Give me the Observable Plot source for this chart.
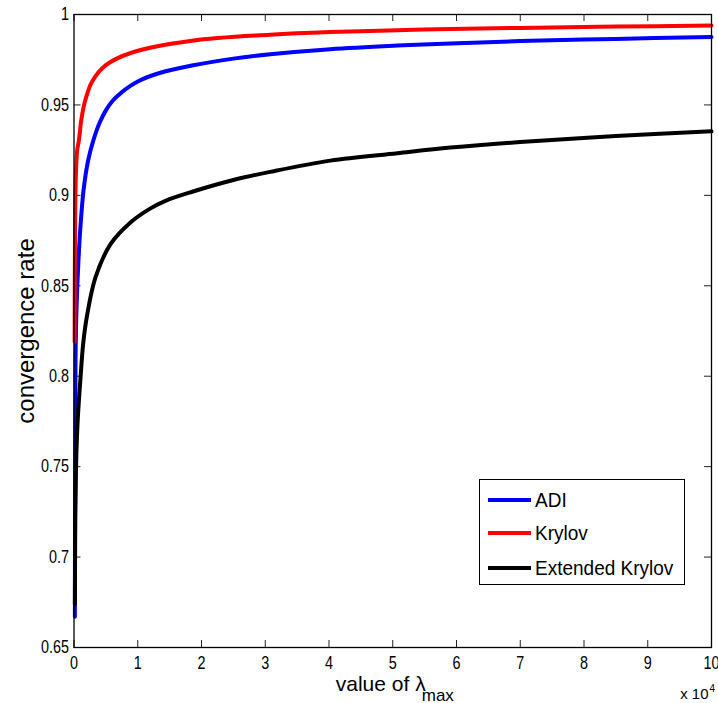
<!DOCTYPE html>
<html>
<head>
<meta charset="utf-8">
<script src="https://cdn.jsdelivr.net/npm/d3@7"></script>
<script src="https://cdn.jsdelivr.net/npm/@observablehq/plot@0.6"></script>
<style>
  html, body { margin: 0; padding: 0; background: #fff; }
  #wrap { position: relative; width: 718px; height: 703px; overflow: hidden; }
  #legend { position: absolute; left: 479px; top: 479px; width: 206px; height: 106px;
    border: 1px solid #000; background: #fff; box-sizing: border-box;
    font-family: "Liberation Sans", Arial, sans-serif; font-size: 20px; color: #000; }
  .row { position: absolute; left: 0; height: 24px; display: flex; align-items: center; }
  .sw { width: 43px; height: 4px; margin-left: 8px; margin-right: 4px; }
  .lbl { display: inline-block; transform-origin: left center; transform: scaleX(0.95); }
</style>
</head>
<body>
<div id="wrap"></div>
<script>
// values of lambda_max (x 10^4) and convergence rates
const adiX = [0.014, 0.016, 0.019, 0.024, 0.04, 0.07, 0.1, 0.15, 0.22, 0.3, 0.4, 0.5, 0.6, 0.7, 0.8, 1.0, 1.33, 1.85, 2.5, 3.08, 4.02, 5.07, 5.906, 7, 8.5, 10];
const adiY = [0.667, 0.72, 0.77, 0.81, 0.838, 0.864, 0.882, 0.903, 0.919, 0.930, 0.940, 0.947, 0.952, 0.9555, 0.9585, 0.963, 0.9675, 0.9718, 0.9756, 0.978, 0.9808, 0.9828, 0.984, 0.9853, 0.9865, 0.9876];

const krylovX = [0.010, 0.013, 0.018, 0.03, 0.05, 0.075, 0.12, 0.18, 0.285, 0.5, 0.91, 1.85, 3.08, 4.02, 5.07, 5.906, 7, 8.5, 10];
const krylovY = [0.819, 0.86, 0.89, 0.912, 0.925, 0.930, 0.943, 0.953, 0.963, 0.972, 0.979, 0.9855, 0.9888, 0.9903, 0.9913, 0.9920, 0.9926, 0.9933, 0.9939];

const extX = [0.014, 0.02, 0.03, 0.039, 0.06, 0.102, 0.144, 0.207, 0.337, 0.573, 0.886, 1.2, 1.435, 1.854, 2.5, 3.08, 4.02, 5.07, 5.906, 7, 8.5, 10];
const extY = [0.674, 0.72, 0.745, 0.759, 0.777, 0.799, 0.818, 0.834, 0.8546, 0.873, 0.885, 0.8928, 0.897, 0.902, 0.9085, 0.913, 0.9192, 0.9233, 0.9264, 0.9295, 0.9328, 0.9354];

const seriesNames = ["ADI", "Krylov", "Extended Krylov"];
const seriesColors = ["#0000ff", "#ff0000", "#000000"];
const xTicks = [0, 1, 2, 3, 4, 5, 6, 7, 8, 9, 10];
const yTicks = [0.65, 0.7, 0.75, 0.8, 0.85, 0.9, 0.95, 1];

const W = 718, H = 703;
const mL = 73.5, mR = 7, mT = 14, mB = 56;
const fw = W - mL - mR, fh = H - mT - mB;
const tick = 7;

const toRows = (xs, ys, name) => xs.map((x, i) => ({x, y: ys[i], name}));
const data = [
  ...toRows(adiX, adiY, seriesNames[0]),
  ...toRows(krylovX, krylovY, seriesNames[1]),
  ...toRows(extX, extY, seriesNames[2])
];

const font = "'Liberation Sans', Arial, sans-serif";

const chart = Plot.plot({
  width: W, height: H,
  marginLeft: mL, marginRight: mR, marginTop: mT, marginBottom: mB,
  style: {fontFamily: font, fontSize: "18px", color: "#000", background: "#fff"},
  x: {domain: [0, 10], ticks: xTicks},
  y: {domain: [0.65, 1], ticks: yTicks},
  color: {domain: seriesNames, range: seriesColors},
  marks: [
    Plot.axisX(xTicks, {tickSize: 0, tickPadding: 9, label: null, tickFormat: d => String(d), fontSize: 18}),
    Plot.axisY(yTicks, {tickSize: 0, tickPadding: 5, label: null, tickFormat: d => String(+d.toFixed(2)), fontSize: 18}),
    Plot.ruleX(xTicks, {x: d => d, insetTop: fh - tick, stroke: "#222", strokeWidth: 1}),
    Plot.ruleX(xTicks, {x: d => d, insetBottom: fh - tick, stroke: "#222", strokeWidth: 1}),
    Plot.ruleY(yTicks, {y: d => d, insetRight: fw - tick, stroke: "#222", strokeWidth: 1}),
    Plot.ruleY(yTicks, {y: d => d, insetLeft: fw - tick, stroke: "#222", strokeWidth: 1}),
    Plot.line(data, {x: "x", y: "y", z: "name", stroke: "name", strokeWidth: 4, curve: "catmull-rom"}),
    Plot.frame({stroke: "#000", strokeWidth: 1.3}),
    Plot.text(["convergence rate"], {frameAnchor: "left", textAnchor: "middle", dx: -48, rotate: -90, fontSize: 24, fontFamily: font}),
    Plot.text(["value of λ"], {frameAnchor: "bottom", textAnchor: "start", lineAnchor: "bottom", dx: -57, dy: 43, fontSize: 21, fontFamily: font, ariaLabel: "squeeze"}),
    Plot.text(["max"], {frameAnchor: "bottom", textAnchor: "start", lineAnchor: "bottom", dx: 29, dy: 53, fontSize: 17, fontFamily: font, ariaLabel: "squeeze"}),
    Plot.text(["x 10"], {frameAnchor: "bottom-right", textAnchor: "end", lineAnchor: "bottom", dx: -3, dy: 51, fontSize: 15, fontFamily: font, ariaLabel: "squeeze"}),
    Plot.text(["4"], {frameAnchor: "bottom-right", textAnchor: "start", lineAnchor: "bottom", dx: -2, dy: 44, fontSize: 10, fontFamily: font, ariaLabel: "squeeze"})
  ]
});

// horizontally condense text to mimic the narrow rendering of the reference
function squeeze(nodes, s) {
  nodes.forEach(el => {
    const t = el.getAttribute("transform") || "";
    el.setAttribute("transform", `${t} scale(${s},1)`);
  });
}
squeeze(chart.querySelectorAll('g[aria-label="x-axis tick label"] text, g[aria-label="y-axis tick label"] text'), 0.8);
squeeze(chart.querySelectorAll('g[aria-label="squeeze"] text'), 0.85);

const wrap = document.getElementById("wrap");
wrap.appendChild(chart);

const legend = document.createElement("div");
legend.id = "legend";
const rowTops = [8, 41, 76];
seriesNames.forEach((name, i) => {
  const row = document.createElement("div");
  row.className = "row";
  row.style.top = rowTops[i] + "px";
  const sw = document.createElement("div");
  sw.className = "sw";
  sw.style.background = seriesColors[i];
  const label = document.createElement("span");
  label.className = "lbl";
  label.textContent = name;
  row.appendChild(sw);
  row.appendChild(label);
  legend.appendChild(row);
});
wrap.appendChild(legend);
</script>
</body>
</html>
